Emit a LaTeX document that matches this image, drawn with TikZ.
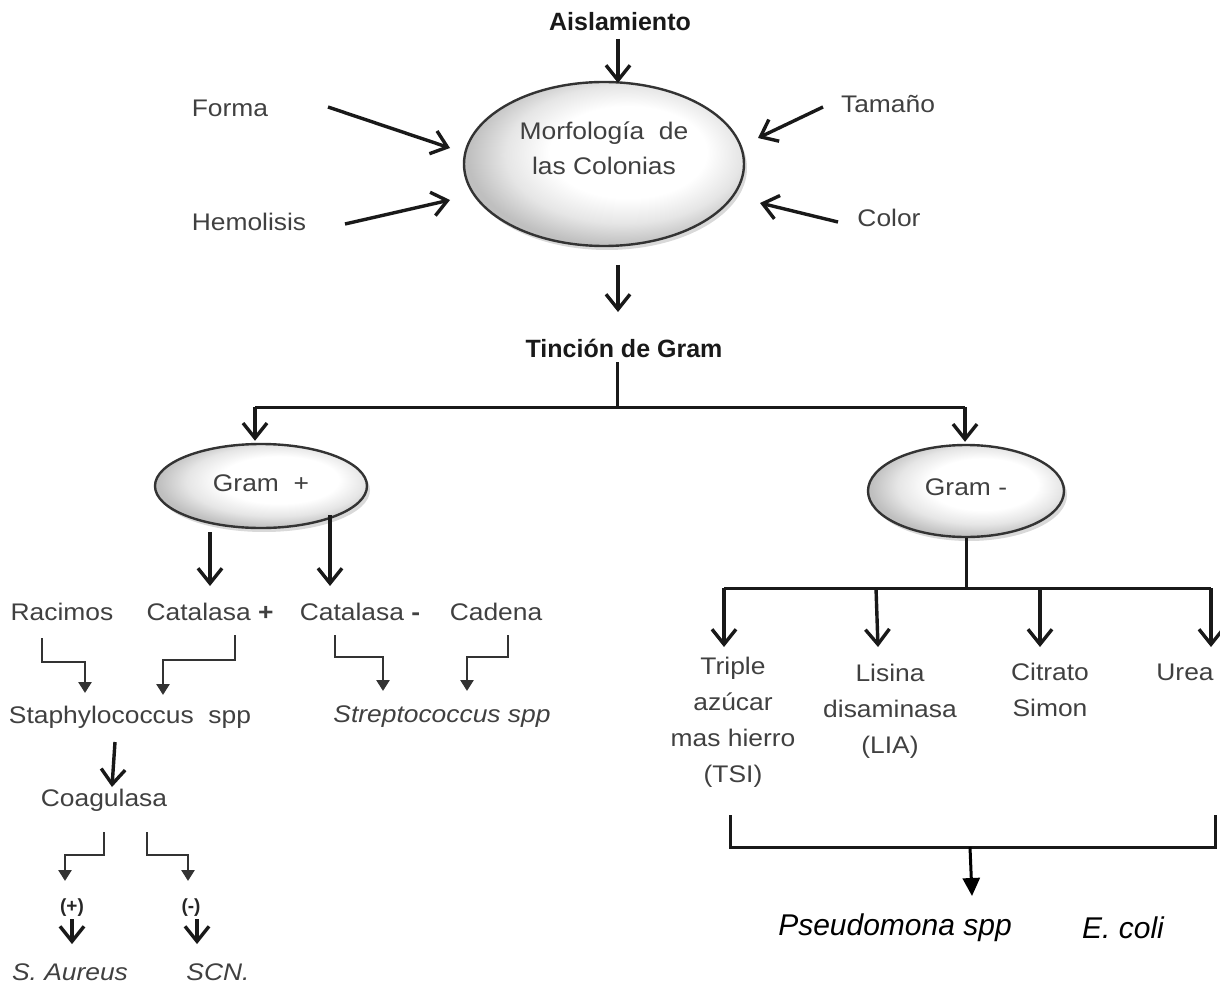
\documentclass[tikz,border=0pt]{standalone}
\usepackage{fontspec}
\setmainfont{Liberation Sans}
\newfontfamily\gfont[FakeStretch=1.1]{Liberation Sans}
\usetikzlibrary{arrows.meta,shapes.geometric,shadows}
\definecolor{txtgray}{HTML}{404040}
\pgfdeclareradialshading{ellsh}{\pgfpoint{6bp}{5bp}}{color(0bp)=(white); color(14bp)=(white); color(21bp)=(gray!20); color(27bp)=(gray!50); color(50bp)=(gray!50)}
\begin{document}
\begin{tikzpicture}[x=1pt,y=-1pt,
  lbl/.style={font=\gfont\fontsize{24}{36}\selectfont, text=txtgray, inner sep=0pt, align=center},
  ilbl/.style={lbl, font=\gfont\itshape\fontsize{24}{36}\selectfont},
  hdr/.style={font=\bfseries\fontsize{25}{28}\selectfont, text=black!90, inner sep=0pt},
  sml/.style={font=\bfseries\fontsize{19}{22}\selectfont, text=black!85, inner sep=0pt},
  spc/.style={font=\itshape\fontsize{30}{36}\selectfont, text=black, inner sep=0pt},
  ell/.style={ellipse, draw=black!80, line width=2.4pt, shading=ellsh,
    drop shadow={opacity=0.3, shadow xshift=3pt, shadow yshift=-4pt}},
  arr/.style={-{Straight Barb[length=15pt,width=24pt]}, line width=3.4pt, black!90},
  ln/.style={line width=3pt, black!90},
  elb/.style={-{Triangle[length=11pt,width=13pt]}, line width=2.6pt, black!80},
  farr/.style={-{Triangle[length=18pt,width=17pt]}, line width=3pt, black}]
\useasboundingbox (0,0) rectangle (1220,984);

% top part
\node[hdr] (aisl) at (620,22) {Aislamiento};
\node[ell, minimum width=280pt, minimum height=164pt] (morf) at (604,164) {};
\node[lbl, font=\gfont\fontsize{24}{35}\selectfont] (morft) at (604,148) {Morfología~ de\\las Colonias};
\node[lbl] (forma) at (230,108) {Forma};
\node[lbl] (hemol) at (249,222) {Hemolisis};
\node[lbl] (taman) at (888,104) {Tamaño};
\node[lbl] (color) at (889,218) {Color};
\node[hdr] (tincion) at (624,348) {Tinción de Gram};

\coordinate (fa) at (328,107);  \coordinate (fb) at (450,148);
\coordinate (ha) at (345,224);  \coordinate (hb) at (450,200);
\coordinate (ta) at (823,107);  \coordinate (tb) at (758,138);
\coordinate (ca) at (838,222);  \coordinate (cb) at (760,203);
\coordinate (ma) at (618,265);  \coordinate (mb) at (618,312);
\coordinate (aa) at (618,39);   \coordinate (ab) at (618,83);

\draw[arr] (aa) -- (ab);
\draw[arr] (fa) -- (fb);
\draw[arr] (ha) -- (hb);
\draw[arr] (ta) -- (tb);
\draw[arr] (ca) -- (cb);
\draw[arr] (ma) -- (mb);

% gram split
\coordinate (t1) at (617,362);
\coordinate (t2) at (617,407);
\coordinate (gl) at (255,407);
\coordinate (gr) at (965,407);
\node[ell, minimum width=212pt, minimum height=84pt, lbl, font=\gfont\fontsize{24}{36}\selectfont] (gpos) at (261,486) {\raisebox{5pt}{Gram~~+}};
\node[ell, minimum width=196pt, minimum height=92pt, lbl, font=\gfont\fontsize{24}{36}\selectfont] (gneg) at (966,491) {\raisebox{7pt}{Gram -}};
\draw[ln] (t1) -- (t2);
\draw[ln] (gl) -- (gr);
\draw[arr] (gl) -- ([yshift=2pt]gl |- gpos.north);
\draw[arr] (gr) -- ([yshift=2pt]gr |- gneg.north);

% gram positive
\node[lbl] (racimos) at (62,612) {Racimos};
\node[lbl] (catp) at (210,612) {Catalasa {\bfseries +}};
\node[lbl] (catn) at (360,612) {Catalasa {\bfseries -}};
\node[lbl] (cadena) at (496,612) {Cadena};
\draw[arr] (210,532) -- (210,586);
\draw[arr] (330,515) -- (330,586);

\node[lbl] (staph) at (130,717) {Staphylococcus~ spp};
\node[ilbl] (strep) at (442,717) {Streptococcus spp};

\draw[elb] (42,638) -- (42,662) -- (85,662) -- (85,693);
\draw[elb] (235,635) -- (235,660) -- (163,660) -- (163,695);
\draw[elb] (335,635) -- (335,657) -- (383,657) -- (383,691);
\draw[elb] (508,635) -- (508,657) -- (467,657) -- (467,691);

\node[lbl] (coag) at (104,800) {Coagulasa};
\draw[arr] (115,742) -- (112,787);

\draw[elb] (104,832) -- (104,855) -- (65,855) -- (65,881);
\draw[elb] (147,832) -- (147,855) -- (188,855) -- (188,881);

\node[sml] (cpos) at (72,908) {(+)};
\node[sml] (cneg) at (191,908) {(-)};
\draw[arr] ([yshift=-2pt]cpos.south) -- ([yshift=-27pt]cpos.south);
\draw[arr] ([xshift=6pt,yshift=-2pt]cneg.south) -- ([xshift=6pt,yshift=-27pt]cneg.south);
\node[ilbl] (saur) at (70,972) {S. Aureus};
\node[ilbl] (scn) at (218,972) {SCN.};

% gram negative
\coordinate (n1) at (966,588);
\coordinate (b1) at (724,588);
\coordinate (b2) at (876,588);
\coordinate (b3) at (1040,588);
\coordinate (b4) at (1211,588);
\draw[ln] (gneg.south) -- (n1);
\draw[ln] (b1) -- (b4);
\node[lbl] (tsi) at (733,722) {Triple\\azúcar\\mas hierro\\(TSI)};
\node[lbl] (lia) at (890,711) {Lisina\\disaminasa\\(LIA)};
\node[lbl] (citr) at (1050,690) {Citrato\\Simon};
\node[lbl] (urea) at (1185,672) {Urea};
\draw[arr] (b1) -- (724,647);
\draw[arr] (b2) -- (878,647);
\draw[arr] (b3) -- (1040,647);
\draw[arr] (b4) -- (1211,647);

\coordinate (k1) at (730,815);
\coordinate (k2) at (1215,815);
\coordinate (km) at (970,847);
\draw[ln] (k1) -- (730,847) -- (1215,847) -- (k2);
\node[spc] (pseu) at (895,928) {Pseudomona spp};
\node[spc] (ecoli) at (1123,928) {E. coli};
\draw[farr] (km) -- (972,896);
\end{tikzpicture}
\end{document}
